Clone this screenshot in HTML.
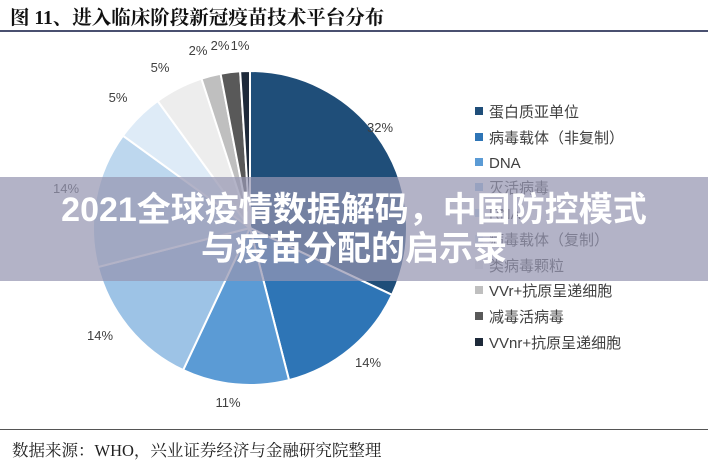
<!DOCTYPE html>
<html><head><meta charset="utf-8"><style>
body{margin:0;width:708px;height:460px;background:#fff;overflow:hidden;position:relative;font-family:"Liberation Sans","Noto Sans CJK SC",sans-serif}
.title{position:absolute;left:10px;top:2px;font-family:"Liberation Serif","Noto Serif CJK SC",serif;font-weight:bold;font-size:19.5px;color:#111}
.hr{position:absolute;left:0;width:708px;height:2px;background:#4a5070}
.src{position:absolute;left:12px;top:437px;font-family:"Liberation Serif","Noto Serif CJK SC",serif;font-size:16.5px;color:#222}
.lg{position:absolute;left:475px;font-size:15px;color:#404040;line-height:18px}
.lg i{display:inline-block;width:8px;height:8px;margin-right:6px;vertical-align:2px}
.ov{position:absolute;left:0;top:177px;width:708px;height:104px;background:rgba(150,150,178,0.72);color:#fff;font-weight:bold;font-size:34px;text-align:center;line-height:39px;padding-top:14px;box-sizing:border-box;font-family:"Liberation Sans","Noto Sans CJK SC",sans-serif}
</style></head><body>
<div class="title">图 11、进入临床阶段新冠疫苗技术平台分布</div>
<div class="hr" style="top:30px"></div>
<svg id="pie" width="708" height="460" style="position:absolute;left:0;top:0"></svg>
<div class="lg" style="top:104px"><i style="background:#1f4e79"></i>蛋白质亚单位</div>
<div class="lg" style="top:130px"><i style="background:#2e75b6"></i>病毒载体（非复制）</div>
<div class="lg" style="top:155px"><i style="background:#5b9bd5"></i>DNA</div>
<div class="lg" style="top:180px"><i style="background:#9dc3e6"></i>灭活病毒</div>
<div class="lg" style="top:206px"><i style="background:#bdd7ee"></i>RNA</div>
<div class="lg" style="top:232px"><i style="background:#deebf7"></i>病毒载体（复制）</div>
<div class="lg" style="top:258px"><i style="background:#ededed"></i>类病毒颗粒</div>
<div class="lg" style="top:283px"><i style="background:#bfbfbf"></i>VVr+抗原呈递细胞</div>
<div class="lg" style="top:309px"><i style="background:#595959"></i>减毒活病毒</div>
<div class="lg" style="top:335px"><i style="background:#1e2a3a"></i>VVnr+抗原呈递细胞</div>
<div class="ov">2021全球疫情数据解码，中国防控模式<br>与疫苗分配的启示录</div>
<div class="hr" style="top:429px;height:1px;background:#555"></div>
<div class="src">数据来源：WHO，兴业证券经济与金融研究院整理</div>
<script>
var d=[32,14,11,14,14,5,5,2,2,1],c=["#1f4e79","#2e75b6","#5b9bd5","#9dc3e6","#bdd7ee","#deebf7","#ededed","#bfbfbf","#595959","#1e2a3a"];
var cx=250,cy=228,r=157,a=0,s="";
var lab=[[380,132],[368,367],[228,407],[100,340],[66,193],[118,102],[160,72],[198,55],[220,50],[240,50]];
for(var i=0;i<d.length;i++){var a2=a+d[i]/100*2*Math.PI;
var x1=cx+r*Math.sin(a),y1=cy-r*Math.cos(a),x2=cx+r*Math.sin(a2),y2=cy-r*Math.cos(a2);
s+='<path d="M'+cx+','+cy+'L'+x1+','+y1+'A'+r+','+r+' 0 '+(d[i]>50?1:0)+' 1 '+x2+','+y2+'Z" fill="'+c[i]+'" stroke="#fff" stroke-width="2"/>';
a=a2;}
for(var i=0;i<d.length;i++)s+='<text x="'+lab[i][0]+'" y="'+lab[i][1]+'" font-size="13" fill="#404040" text-anchor="middle" font-family="Liberation Sans,sans-serif">'+d[i]+'%</text>';
document.getElementById('pie').innerHTML=s;
</script>
</body></html>
